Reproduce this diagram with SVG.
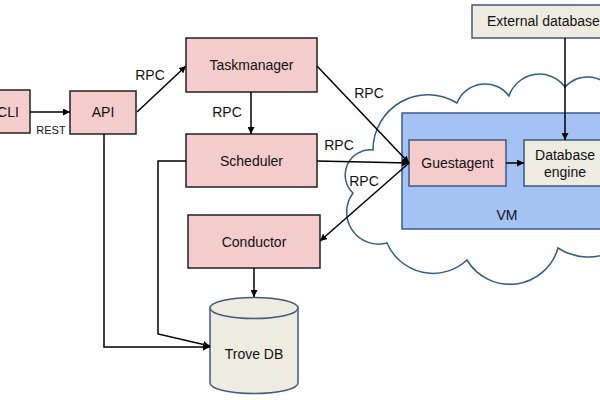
<svg xmlns="http://www.w3.org/2000/svg" width="600" height="400" viewBox="0 0 600 400">
<style>
text{font-family:"Liberation Sans",Arial,sans-serif;font-size:14px;fill:#111;text-anchor:middle}
.pink{fill:#f4cccc;stroke:#222;stroke-width:1.5}
.beige{fill:#eeece1;stroke:#3d5a80;stroke-width:1.5}
.edge{fill:none;stroke:#000;stroke-width:1.5}
.lbl{text-anchor:start}
</style>
<defs>
<marker id="ah" viewBox="0 0 10 10" refX="10" refY="5" markerWidth="7" markerHeight="7" markerUnits="userSpaceOnUse" orient="auto">
<path d="M0,0 L10,5 L0,10 z" fill="#000"/>
</marker>
</defs>
<rect width="600" height="400" fill="#fff"/>
<g id="cloud">
<path d="M373,150 A55,55 0 0 1 457,103 A30,30 0 0 1 509,96 A32,32 0 0 1 565,87 A30,30 0 0 1 615,95 L615,250 A55,55 0 0 1 558,248 A50,50 0 0 1 467,260 A50,50 0 0 1 387,243 A32,32 0 0 1 353,193 A25,25 0 0 1 373,150 Z" fill="#fff" stroke="#2f5d87" stroke-width="1.5"/>
</g>
<g id="vm">
<rect x="402" y="113" width="210" height="116" fill="#a4c2f4" stroke="#3d5a8c" stroke-width="1.5"/>
<text x="507" y="220">VM</text>
</g>
<g id="cli">
<rect class="pink" x="-20" y="90" width="50" height="43"/>
<text x="8" y="117">CLI</text>
</g>
<g id="api">
<rect class="pink" x="70" y="91" width="66" height="43"/>
<text x="103" y="117">API</text>
</g>
<g id="taskmanager">
<rect class="pink" x="186" y="38" width="131" height="54"/>
<text x="251.5" y="70">Taskmanager</text>
</g>
<g id="scheduler">
<rect class="pink" x="186" y="134" width="131" height="53"/>
<text x="251.5" y="166">Scheduler</text>
</g>
<g id="conductor">
<rect class="pink" x="188" y="215" width="132" height="53"/>
<text x="254" y="247">Conductor</text>
</g>
<g id="trovedb">
<path d="M210,308 L210,383 A44,10.5 0 0 0 298,383 L298,308" class="beige"/>
<ellipse cx="254" cy="308" rx="44" ry="10.5" class="beige"/>
<text x="254" y="359">Trove DB</text>
</g>
<g id="guestagent">
<rect x="409" y="140" width="97" height="46" fill="#f4cccc" stroke="#3d5a80" stroke-width="1.5"/>
<text x="457.5" y="168">Guestagent</text>
</g>
<g id="dbengine">
<rect class="beige" x="524" y="140" width="84" height="46"/>
<text x="565" y="160">Database</text>
<text x="565" y="177">engine</text>
</g>
<g id="externaldb">
<rect class="beige" x="472" y="5" width="140" height="33"/>
<text class="lbl" x="487" y="26">External database</text>
</g>
<g id="connectors">
<line class="edge" x1="30" y1="112" x2="70" y2="112" marker-end="url(#ah)"/>
<text style="font-size:11px" x="51" y="134">REST</text>
<line class="edge" x1="137" y1="112" x2="186" y2="66" marker-end="url(#ah)"/>
<text x="150" y="80">RPC</text>
<line class="edge" x1="251" y1="92" x2="251" y2="134" marker-end="url(#ah)"/>
<text x="227" y="117">RPC</text>
<line class="edge" x1="317" y1="66" x2="409" y2="163" marker-end="url(#ah)"/>
<text x="369" y="98">RPC</text>
<line class="edge" x1="317" y1="161" x2="409" y2="163" marker-end="url(#ah)"/>
<text x="339" y="150">RPC</text>
<line class="edge" x1="409" y1="163" x2="320" y2="241" marker-end="url(#ah)"/>
<text x="364" y="186">RPC</text>
<line class="edge" x1="506" y1="163" x2="524" y2="163" marker-end="url(#ah)"/>
<line class="edge" x1="565" y1="38" x2="565" y2="140" marker-end="url(#ah)"/>
<line class="edge" x1="254" y1="268" x2="254" y2="297" marker-end="url(#ah)"/>
<polyline class="edge" points="104,134 104,347 210,347" marker-end="url(#ah)"/>
<polyline class="edge" points="186,161 158,161 158,334 210,346" marker-end="url(#ah)"/>
</g>
</svg>
